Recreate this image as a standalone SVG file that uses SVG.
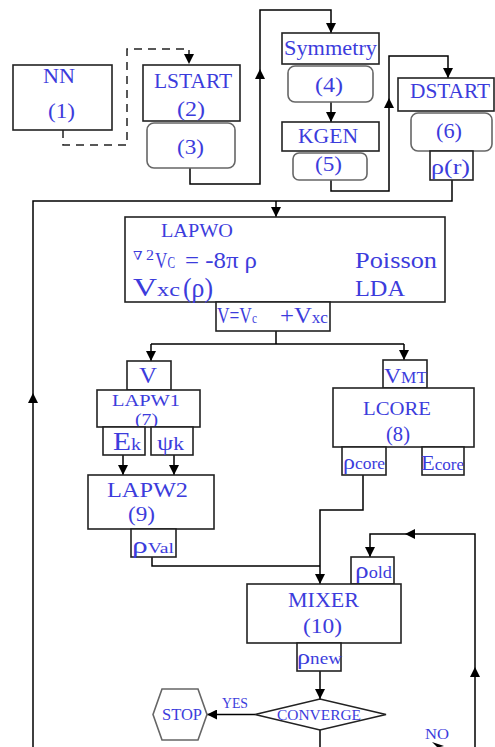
<svg xmlns="http://www.w3.org/2000/svg" width="495" height="747" viewBox="0 0 495 747">
<defs>
<marker id="ah" viewBox="0 0 10 10" refX="10" refY="5" markerWidth="10" markerHeight="10" markerUnits="userSpaceOnUse" orient="auto">
<path d="M0,0 L10,5 L0,10 z" fill="#000"/>
</marker>
<style>
.box{fill:#fff;stroke:#222;stroke-width:1.6}
.rbox{fill:#fff;stroke:#666;stroke-width:1.6}
.ln{fill:none;stroke:#000;stroke-width:1.5}
.dash{fill:none;stroke:#222;stroke-width:1.5;stroke-dasharray:8,6}
.mid{fill:#000;stroke:none}
text{font-family:Tinos,"Liberation Serif","Times New Roman",Times,"Noto Serif","DejaVu Serif",serif;fill:#3c3cdc}
</style>
</defs>
<rect width="495" height="747" fill="#fff"/>

<g id="connectors">
<path class="dash" d="M63,130 V145 H127 V49 H189 V64" marker-end="url(#ah)"/>
<path class="ln" d="M190,168 V184 H260 V10 H331 V33" marker-end="url(#ah)"/>
<polygon class="mid" points="260,69 255,79 265,79"/>
<path class="ln" d="M331,102 V122" marker-end="url(#ah)"/>
<path class="ln" d="M331,180 V191 H389 V56 H448 V78" marker-end="url(#ah)"/>
<polygon class="mid" points="389,98 384,108 394,108"/>
<path class="ln" d="M452,180 V201 H33 V747"/>
<polygon class="mid" points="33,393 28,403 38,403"/>
<path class="ln" d="M276,201 V217" marker-end="url(#ah)"/>
<path class="ln" d="M276,331 V344 M151,344 H404"/>
<path class="ln" d="M151,344 V361" marker-end="url(#ah)"/>
<path class="ln" d="M404,344 V360" marker-end="url(#ah)"/>
<path class="ln" d="M123,455 V475" marker-end="url(#ah)"/>
<path class="ln" d="M174,455 V475" marker-end="url(#ah)"/>
<path class="ln" d="M152,557 V566 H320"/>
<path class="ln" d="M363,475 V510 H320 V584" marker-end="url(#ah)"/>
<path class="ln" d="M475,747 V534 H370 V557" marker-end="url(#ah)"/>
<polygon class="mid" points="405,534 415,529 415,539"/>
<polygon class="mid" points="475,667 470,677 480,677"/>
<path class="ln" d="M320,671 V699" marker-end="url(#ah)"/>
<path class="ln" d="M255,714.5 H207" marker-end="url(#ah)"/>
<path class="ln" d="M320,730 V747"/>
<polygon class="mid" points="432,742 444,746 440,747 437,747"/>
</g>

<g id="nn">
<rect class="box" x="13" y="65" width="99" height="65"/>
<text x="43" y="83" font-size="21" textLength="32" lengthAdjust="spacingAndGlyphs">NN</text>
<text x="48" y="118" font-size="22" textLength="27" lengthAdjust="spacingAndGlyphs">(1)</text>
</g>

<g id="lstart">
<rect class="box" x="143" y="65" width="97" height="56"/>
<text x="154" y="88" font-size="20" textLength="78" lengthAdjust="spacingAndGlyphs">LSTART</text>
<text x="177" y="116" font-size="22" textLength="28" lengthAdjust="spacingAndGlyphs">(2)</text>
</g>

<g id="n3">
<rect class="rbox" x="147" y="123" width="88" height="45" rx="7"/>
<text x="177" y="154" font-size="22" textLength="27" lengthAdjust="spacingAndGlyphs">(3)</text>
</g>

<g id="symmetry">
<rect class="box" x="282" y="33" width="97" height="31"/>
<text x="284" y="55" font-size="21" textLength="93" lengthAdjust="spacingAndGlyphs">Symmetry</text>
</g>

<g id="n4">
<rect class="rbox" x="288" y="66" width="85" height="36" rx="7"/>
<text x="315" y="92" font-size="22" textLength="28" lengthAdjust="spacingAndGlyphs">(4)</text>
</g>

<g id="kgen">
<rect class="box" x="282" y="122" width="97" height="29"/>
<text x="298" y="143" font-size="20" textLength="60" lengthAdjust="spacingAndGlyphs">KGEN</text>
</g>

<g id="n5">
<rect class="rbox" x="293" y="153" width="74" height="27" rx="6"/>
<text x="315" y="171" font-size="22" textLength="27" lengthAdjust="spacingAndGlyphs">(5)</text>
</g>

<g id="dstart">
<rect class="box" x="398" y="78" width="96" height="33"/>
<text x="410" y="98" font-size="20" textLength="80" lengthAdjust="spacingAndGlyphs">DSTART</text>
</g>

<g id="n6">
<rect class="rbox" x="411" y="113" width="81" height="38" rx="7"/>
<text x="436" y="138" font-size="22" textLength="26" lengthAdjust="spacingAndGlyphs">(6)</text>
</g>

<g id="rho_r">
<rect class="box" x="430" y="151" width="43" height="29"/>
<text x="431" y="174" font-size="22" textLength="39" lengthAdjust="spacingAndGlyphs">ρ(r)</text>
</g>

<g id="lapwo">
<rect class="box" x="125" y="217" width="320" height="85"/>
<text x="161" y="237" font-size="18" textLength="72" lengthAdjust="spacingAndGlyphs">LAPWO</text>
<text x="133" y="260" font-size="12" textLength="21" lengthAdjust="spacingAndGlyphs">∇<tspan font-size="14" dx="3">2</tspan></text>
<text transform="translate(155,268) scale(0.714,1)" font-size="24">V<tspan font-size="16">C</tspan></text>
<text x="185" y="268" font-size="24" textLength="72" lengthAdjust="spacingAndGlyphs">= -8π ρ</text>
<text x="355" y="268" font-size="24" textLength="82" lengthAdjust="spacingAndGlyphs">Poisson</text>
<text x="133" y="296" font-size="26" textLength="47" lengthAdjust="spacingAndGlyphs">V<tspan font-size="19">xc</tspan></text>
<text x="183" y="297" font-size="28" textLength="30" lengthAdjust="spacingAndGlyphs">(ρ)</text>
<text x="355" y="296" font-size="23" textLength="50" lengthAdjust="spacingAndGlyphs">LDA</text>
</g>

<g id="vsum">
<rect class="box" x="216" y="302" width="114" height="29"/>
<text transform="translate(217,323) scale(0.756,1)" font-size="23">V=V<tspan font-size="15">c</tspan></text>
<text x="280" y="323" font-size="23" textLength="48" lengthAdjust="spacingAndGlyphs">+V<tspan font-size="16">xc</tspan></text>
</g>

<g id="v">
<rect class="box" x="127" y="361" width="44" height="29"/>
<text x="139" y="383" font-size="24" textLength="18" lengthAdjust="spacingAndGlyphs">V</text>
</g>

<g id="lapw1">
<rect class="box" x="97" y="390" width="103" height="37"/>
<text x="112" y="406" font-size="17" textLength="68" lengthAdjust="spacingAndGlyphs">LAPW1</text>
<text x="135" y="425" font-size="17" textLength="23" lengthAdjust="spacingAndGlyphs">(7)</text>
</g>

<g id="ek">
<rect class="box" x="103" y="427" width="42" height="28"/>
<text x="113" y="450" font-size="25" textLength="28" lengthAdjust="spacingAndGlyphs">E<tspan font-size="17">k</tspan></text>
</g>

<g id="psik">
<rect class="box" x="151" y="427" width="42" height="28"/>
<text x="157" y="450" font-size="22" textLength="27" lengthAdjust="spacingAndGlyphs">ψ<tspan font-size="18">k</tspan></text>
</g>

<g id="lapw2">
<rect class="box" x="88" y="475" width="126" height="54"/>
<text x="107" y="497" font-size="22" textLength="81" lengthAdjust="spacingAndGlyphs">LAPW2</text>
<text x="128" y="521" font-size="22" textLength="27" lengthAdjust="spacingAndGlyphs">(9)</text>
</g>

<g id="rhoval">
<rect class="box" x="131" y="529" width="45" height="28"/>
<text x="132" y="553" font-size="24" textLength="42" lengthAdjust="spacingAndGlyphs">ρ<tspan font-size="15">Val</tspan></text>
</g>

<g id="vmt">
<rect class="box" x="383" y="360" width="44" height="28"/>
<text x="384" y="383" font-size="22" textLength="43" lengthAdjust="spacingAndGlyphs">V<tspan font-size="16">MT</tspan></text>
</g>

<g id="lcore">
<rect class="box" x="333" y="388" width="141" height="59"/>
<text x="363" y="415" font-size="19" textLength="68" lengthAdjust="spacingAndGlyphs">LCORE</text>
<text x="386" y="441" font-size="20" textLength="24" lengthAdjust="spacingAndGlyphs">(8)</text>
</g>

<g id="rhocore">
<rect class="box" x="342" y="447" width="44" height="28"/>
<text x="343" y="469" font-size="22" textLength="42" lengthAdjust="spacingAndGlyphs">ρ<tspan font-size="16">core</tspan></text>
</g>

<g id="ecore">
<rect class="box" x="422" y="447" width="42" height="28"/>
<text x="421" y="470" font-size="21" textLength="43" lengthAdjust="spacingAndGlyphs">E<tspan font-size="16">core</tspan></text>
</g>

<g id="rhoold">
<rect class="box" x="351" y="557" width="43" height="27"/>
<text x="355" y="578" font-size="24" textLength="37" lengthAdjust="spacingAndGlyphs">ρ<tspan font-size="16">old</tspan></text>
</g>

<g id="mixer">
<rect class="box" x="247" y="584" width="154" height="59"/>
<text x="288" y="607" font-size="21" textLength="71" lengthAdjust="spacingAndGlyphs">MIXER</text>
<text x="303" y="633" font-size="22" textLength="39" lengthAdjust="spacingAndGlyphs">(10)</text>
</g>

<g id="rhonew">
<rect class="box" x="297" y="643" width="44" height="28"/>
<text x="297" y="664" font-size="22" textLength="45" lengthAdjust="spacingAndGlyphs">ρ<tspan font-size="16">new</tspan></text>
</g>

<g id="converge">
<polygon points="255,714.5 320,699 386,714.5 320,730" fill="#fff" stroke="#222" stroke-width="1.6"/>
<text x="277" y="720" font-size="15" textLength="84" lengthAdjust="spacingAndGlyphs">CONVERGE</text>
</g>

<g id="stop">
<polygon points="153,714.5 162,689 198,689 207,714.5 198,740 162,740" fill="#fff" stroke="#666" stroke-width="1.6"/>
<text x="162" y="720" font-size="16" textLength="40" lengthAdjust="spacingAndGlyphs">STOP</text>
</g>

<text x="222" y="708" font-size="14" textLength="26" lengthAdjust="spacingAndGlyphs">YES</text>
<text x="425" y="739" font-size="14" textLength="24" lengthAdjust="spacingAndGlyphs">NO</text>
</svg>
